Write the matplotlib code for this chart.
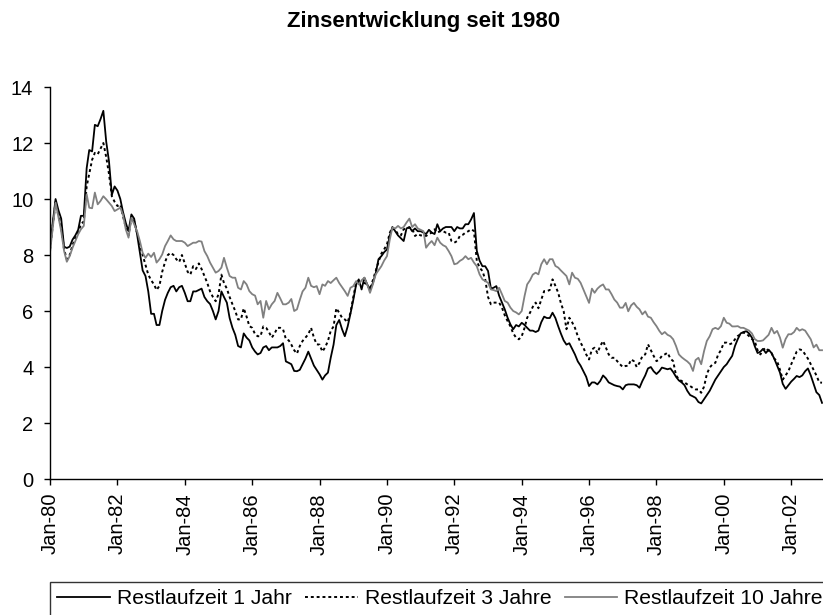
from matplotlib import pyplot as plt
import matplotlib.dates as mdates
import pandas as pd

plt.rcParams['font.family'] = ['Liberation Sans', 'DejaVu Sans']

# monthly yields, Jan 1980 - Dec 2002
rest_1 = [
    8.3, 9.2, 10.0, 9.6, 9.3, 8.3, 8.25, 8.3, 8.55, 8.7, 8.9, 9.4,
    9.4, 11.1, 11.75, 11.7, 12.65, 12.6, 12.85, 13.15, 12.05, 11.35, 10.15, 10.45,
    10.3, 10.0, 9.55, 9.15, 8.85, 9.45, 9.3, 8.75, 8.1, 7.45, 7.25, 6.7,
    5.9, 5.9, 5.5, 5.5, 6.0, 6.4, 6.65, 6.85, 6.9, 6.7, 6.85, 6.9,
    6.65, 6.35, 6.35, 6.7, 6.7, 6.75, 6.8, 6.5, 6.35, 6.25, 6.0, 5.7,
    6.0, 6.7, 6.5, 6.3, 5.75, 5.4, 5.15, 4.75, 4.7, 5.2, 5.05, 4.95,
    4.7, 4.55, 4.45, 4.5, 4.7, 4.75, 4.6, 4.7, 4.7, 4.7, 4.75, 4.85,
    4.2, 4.15, 4.1, 3.86, 3.85, 3.9, 4.1, 4.3, 4.55, 4.3, 4.05, 3.9,
    3.74, 3.55, 3.7, 3.8, 4.33, 4.8, 5.5, 5.68, 5.35, 5.1, 5.45, 5.9,
    6.4, 6.95, 7.13, 6.77, 7.19, 6.95, 6.75, 7.0, 7.35, 7.85, 7.96, 8.1,
    8.2, 8.7, 9.0, 8.85, 8.7, 8.6, 8.5, 8.95, 9.0, 8.85, 8.95, 8.85,
    8.85, 8.8, 8.75, 8.9, 8.8, 8.75, 9.1, 8.85, 8.95, 9.0, 9.0, 9.0,
    8.85, 9.0, 8.95, 8.95, 9.1, 9.1, 9.27, 9.5, 8.15, 7.8, 7.6, 7.6,
    7.43, 6.8, 6.83, 6.89, 6.55, 6.3, 6.06, 5.76, 5.52, 5.35, 5.5, 5.45,
    5.58, 5.5, 5.4, 5.3, 5.3, 5.25, 5.3, 5.6, 5.8, 5.75, 5.75, 5.94,
    5.75, 5.45, 5.2, 4.95, 4.8, 4.85, 4.65, 4.45, 4.2, 4.05, 3.85, 3.65,
    3.32, 3.45, 3.45, 3.38, 3.5, 3.7, 3.6, 3.45, 3.4, 3.35, 3.32, 3.3,
    3.2, 3.35, 3.38, 3.38, 3.38, 3.35, 3.26, 3.5, 3.7, 3.95, 4.0, 3.85,
    3.75, 3.85, 3.98, 3.95, 3.92, 3.95, 3.82, 3.65, 3.52, 3.45, 3.35, 3.15,
    3.0, 2.95, 2.9, 2.75, 2.7, 2.85, 3.0, 3.15, 3.35, 3.55, 3.7, 3.85,
    4.0, 4.1, 4.25, 4.4, 4.75, 5.0, 5.2, 5.25, 5.28, 5.2, 5.05, 4.75,
    4.5, 4.55, 4.65, 4.5, 4.62, 4.5, 4.3, 4.05, 3.8, 3.4, 3.22, 3.35,
    3.48, 3.58, 3.68, 3.64, 3.7, 3.85, 3.95, 3.7, 3.4, 3.1, 3.0, 2.72,
]

rest_3 = [
    8.2, 9.1, 9.9, 9.4, 9.0, 8.2, 7.85, 8.0, 8.35, 8.6, 8.8, 9.1,
    9.2, 10.45, 10.9, 11.4, 11.65, 11.6, 11.8, 12.0, 11.5, 10.9, 10.1, 9.9,
    9.75, 9.8, 9.4, 9.0, 8.7, 9.35, 9.2, 8.8, 8.35, 8.0, 7.65, 7.3,
    7.1, 6.95, 6.75, 6.9, 7.4, 7.75, 8.0, 8.08, 8.0, 7.85, 7.75, 8.0,
    7.7, 7.4, 7.3, 7.6, 7.5, 7.7, 7.5, 7.25, 7.0, 6.7, 6.5, 6.35,
    6.6, 7.3, 7.0, 6.8, 6.5, 6.24, 6.0, 5.7, 5.7, 6.1, 5.8, 5.46,
    5.4, 5.17, 5.1, 5.1, 5.45, 5.4, 5.25, 5.05, 5.2, 5.4, 5.4, 5.35,
    5.0, 4.95, 4.8, 4.6, 4.48, 4.75, 4.93, 5.05, 5.17, 5.4, 5.05, 4.81,
    4.8, 4.55, 4.7, 4.93, 5.29, 5.45, 6.1, 5.94, 5.76, 5.7, 5.6, 5.94,
    6.5, 7.01, 7.0, 7.01, 7.0, 6.95, 6.77, 7.1, 7.43, 7.75, 8.05, 8.2,
    8.38, 8.8, 8.98, 8.9, 8.74, 8.7, 8.92, 8.95, 8.98, 8.95, 8.68, 8.75,
    8.7, 8.7, 8.68, 8.75, 8.8, 8.92, 8.8, 8.85, 8.85, 8.8, 8.8, 8.5,
    8.44, 8.5, 8.68, 8.72, 8.8, 8.85, 8.92, 8.86, 7.79, 7.55, 7.43, 7.13,
    6.5, 6.24, 6.3, 6.3, 6.3, 6.12, 5.85, 5.64, 5.45, 5.2, 5.05, 4.99,
    5.1, 5.4, 5.76, 5.94, 6.15, 6.3, 6.1, 6.41, 6.71, 6.71, 6.75, 7.13,
    6.9, 6.65, 6.29, 5.99, 5.35, 5.76, 5.6, 5.4, 5.1, 4.87, 4.69, 4.45,
    4.27, 4.63, 4.69, 4.5, 4.75, 4.93, 4.7, 4.45, 4.33, 4.33, 4.21, 4.1,
    4.0, 4.04, 4.04, 4.27, 4.21, 4.0, 4.15, 4.39, 4.45, 4.81, 4.6, 4.4,
    4.21, 4.27, 4.4, 4.45, 4.51, 4.3, 4.21, 3.7, 3.56, 3.5, 3.45, 3.38,
    3.32, 3.25, 3.2, 3.2, 3.08, 3.3, 3.75, 3.98, 4.1, 4.15, 4.45, 4.6,
    4.87, 4.87, 4.81, 4.85, 4.99, 5.11, 5.17, 5.23, 5.2, 5.1, 5.0, 4.93,
    4.6, 4.45, 4.6, 4.69, 4.57, 4.5, 4.3, 4.21, 3.9, 3.55, 3.7, 3.85,
    4.1, 4.33, 4.55, 4.63, 4.6, 4.45, 4.3, 4.1, 3.9, 3.7, 3.45, 3.44,
]

rest_10 = [
    8.1, 9.0, 9.87, 9.35, 8.85, 8.15, 7.76, 7.96, 8.26, 8.5, 8.74, 8.92,
    9.04, 10.17, 9.69, 9.67, 10.23, 9.81, 9.93, 10.1, 9.99, 9.87, 9.75, 9.57,
    9.63, 9.69, 9.45, 8.92, 8.62, 9.33, 9.1, 8.86, 8.5, 8.08, 7.9, 8.05,
    7.93, 8.08, 7.73, 7.85, 8.02, 8.32, 8.5, 8.7, 8.56, 8.5, 8.5, 8.5,
    8.44, 8.32, 8.38, 8.44, 8.44, 8.5, 8.48, 8.14, 7.96, 7.73, 7.55, 7.37,
    7.43, 7.55, 7.9, 7.55, 7.25, 7.19, 7.19, 6.83, 6.77, 7.07, 6.95, 6.71,
    6.6, 6.55, 6.24, 6.36, 5.76, 6.36, 6.06, 6.24, 6.36, 6.65, 6.45, 6.24,
    6.24, 6.3, 6.43, 6.0, 6.06, 6.4, 6.7, 6.83, 7.19, 6.9, 6.85, 6.89,
    6.6, 6.95, 6.9, 7.07, 7.0, 7.1, 7.19, 7.0, 6.85, 6.71, 6.54, 6.83,
    6.89, 7.07, 6.95, 7.1, 7.19, 6.95, 6.65, 6.95, 7.31, 7.45, 7.6, 7.8,
    7.96, 8.56, 8.98, 8.95, 9.04, 8.95, 9.0, 9.16, 9.3, 9.0, 9.1, 8.95,
    8.9, 8.85, 8.26, 8.4, 8.5, 8.35, 8.62, 8.44, 8.35, 8.3, 8.14, 7.96,
    7.67, 7.7, 7.79, 7.85, 7.96, 7.85, 7.9, 7.73, 7.6, 7.31, 7.13, 7.07,
    7.01, 6.77, 6.75, 6.71, 6.83, 6.6, 6.36, 6.3, 6.12, 6.0, 5.95, 5.88,
    6.0, 6.54, 6.95, 7.1, 7.3, 7.37, 7.31, 7.67, 7.85, 7.67, 7.85, 7.85,
    7.61, 7.55, 7.45, 7.35, 7.25, 6.95, 7.37, 7.19, 7.15, 7.01, 6.77, 6.53,
    6.29, 6.8, 6.65, 6.8, 6.89, 6.95, 6.77, 6.77, 6.6, 6.41, 6.3, 6.12,
    6.12, 6.29, 5.99, 6.2, 6.29, 6.15, 6.06, 5.88, 5.99, 5.8, 5.76, 5.6,
    5.46, 5.29, 5.17, 5.25, 5.15, 5.1, 4.99, 4.75, 4.45, 4.35, 4.27, 4.2,
    4.1, 3.86, 4.25, 4.33, 4.1, 4.57, 4.93, 5.1, 5.35, 5.4, 5.35, 5.46,
    5.76, 5.58, 5.55, 5.45, 5.45, 5.46, 5.4, 5.4, 5.35, 5.3, 5.2, 5.0,
    4.93, 4.93, 4.95, 5.05, 5.15, 5.4, 5.2, 5.29, 5.05, 4.69, 5.0, 5.17,
    5.17, 5.25, 5.4, 5.3, 5.35, 5.3, 5.15, 4.99, 4.7, 4.8, 4.6, 4.6,
]

labels = ['Restlaufzeit 1 Jahr', 'Restlaufzeit 3 Jahre', 'Restlaufzeit 10 Jahre']

dates = pd.date_range('1980-01-01', periods=len(rest_1), freq='MS')

fig = plt.figure(figsize=(8.23, 6.15), dpi=100)
ax = fig.add_axes([0.0608, 0.2211, 0.9415, 0.6374])

ax.plot(dates, rest_1, color='black', lw=1.3, label=labels[0])
ax.plot(dates, rest_3, color='black', lw=1.4, linestyle=(0, (1.5, 1.5)), label=labels[1])
ax.plot(dates, rest_10, color='#808080', lw=1.3, label=labels[2])

ax.set_xlim(pd.Timestamp('1980-01-01'), pd.Timestamp('2003-01-01'))
ax.set_ylim(0, 14)
ax.set_yticks(range(0, 15, 2))
ax.xaxis.set_major_locator(mdates.YearLocator(2))
ax.xaxis.set_major_formatter(mdates.DateFormatter('%b-%y'))
plt.setp(ax.get_xticklabels(), rotation=90)

for s in ['top', 'right']:
    ax.spines[s].set_visible(False)
ax.spines['left'].set_linewidth(1.0)
ax.spines['bottom'].set_linewidth(1.0)
ax.tick_params(axis='both', labelsize=14.5, length=4, width=1.0, color='black')
ax.tick_params(axis='x', pad=6)
ax.tick_params(axis='y', pad=8)

fig.text(424 / 823, 1 - 21 / 615, 'Zinsentwicklung seit 1980', ha='center', va='center',
         fontsize=16, fontweight='bold')

# legend box runs past the right and bottom edge like in the original
leg = fig.legend(loc='upper left', bbox_to_anchor=(50 / 823, 1 - 582 / 615), ncol=3,
                 fontsize=15.2, frameon=True, fancybox=False, handlelength=2.5,
                 handletextpad=0.33, columnspacing=0.62, borderpad=0.35,
                 borderaxespad=0)
leg.get_frame().set_edgecolor('black')
leg.get_frame().set_linewidth(1.0)

plt.savefig('out.png', dpi=100)
